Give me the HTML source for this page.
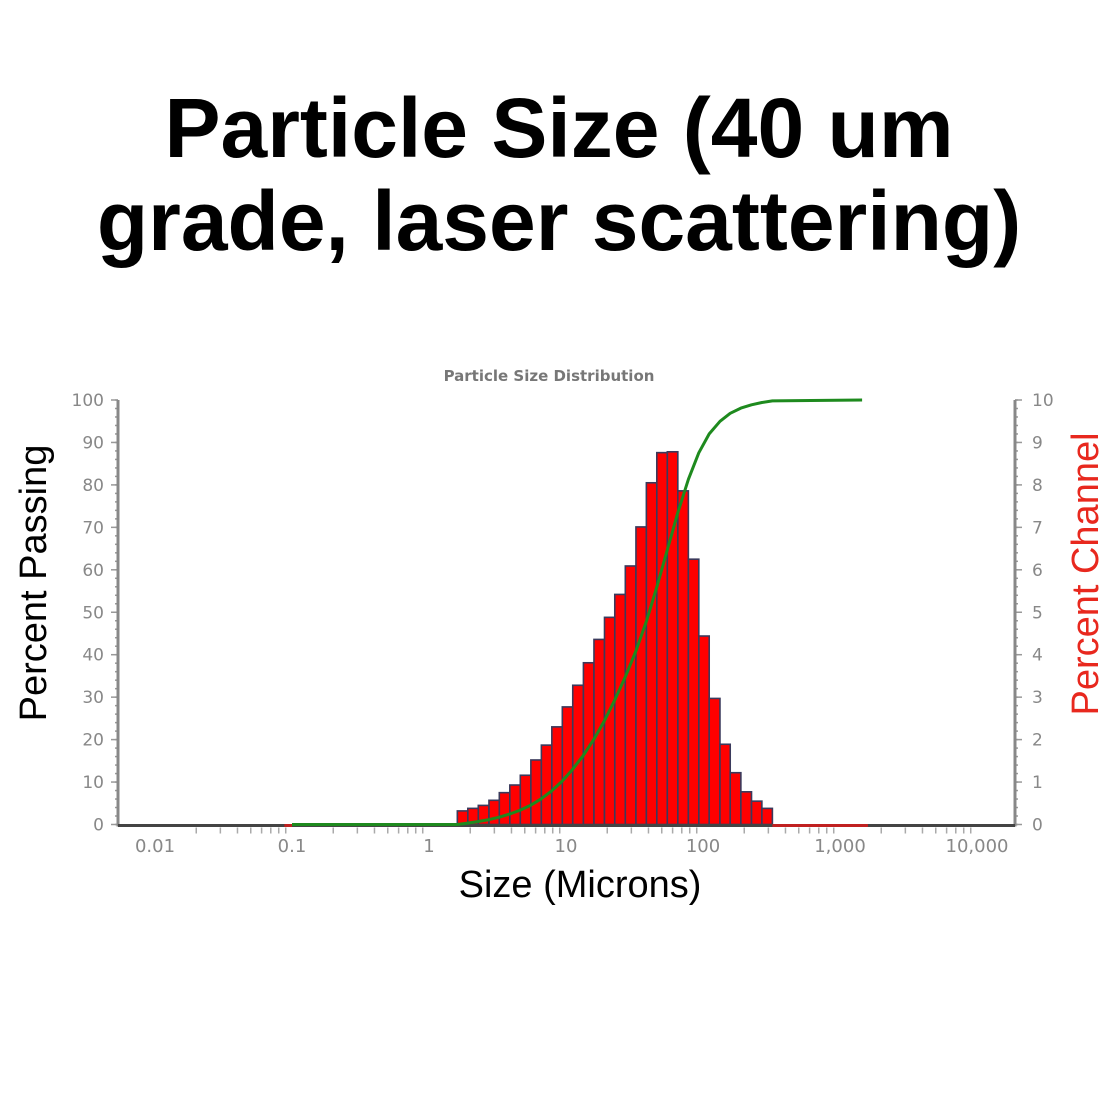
<!DOCTYPE html>
<html><head><meta charset="utf-8"><style>
body{margin:0;background:#fff;width:1120px;height:1118px;overflow:hidden}
svg{display:block}
</style></head><body>
<svg id="chart" width="1120" height="1118">
<text x="559" y="157" text-anchor="middle" font-family="Liberation Sans, sans-serif" font-weight="bold" font-size="84" fill="#000">Particle Size (40 um</text>
<text x="559" y="250" text-anchor="middle" font-family="Liberation Sans, sans-serif" font-weight="bold" font-size="84" fill="#000">grade, laser scattering)</text>
<text x="549" y="381" text-anchor="middle" font-family="DejaVu Sans, sans-serif" font-weight="bold" font-size="15" fill="#777">Particle Size Distribution</text>
<text transform="translate(46,583) rotate(-90)" text-anchor="middle" font-family="Liberation Sans, sans-serif" font-size="38" fill="#000">Percent Passing</text>
<text transform="translate(1098,574) rotate(-90)" text-anchor="middle" font-family="Liberation Sans, sans-serif" font-size="38" fill="#e8281e">Percent Channel</text>
<text x="580" y="897" text-anchor="middle" font-family="Liberation Sans, sans-serif" font-size="38" fill="#000">Size (Microns)</text>
<g id="g"></g>
</svg>
<script>
const binEdges=[1.61,1.92,2.29,2.74,3.26,3.89,4.64,5.54,6.61,7.88,9.40,11.2,13.4,16.0,19.1,22.7,27.1,32.4,38.6,46.0,54.9,65.5,78.2,93.2,111,133,158,189,226,269,321];
const channelPct=[0.32,0.38,0.45,0.57,0.75,0.93,1.16,1.52,1.87,2.30,2.77,3.28,3.81,4.36,4.88,5.42,6.09,7.01,8.05,8.76,8.78,7.86,6.25,4.44,2.97,1.89,1.22,0.77,0.55,0.38];
const passSizes=[0.1,1.61,1.92,2.29,2.74,3.26,3.89,4.64,5.54,6.61,7.88,9.40,11.2,13.4,16.0,19.1,22.7,27.1,32.4,38.6,46.0,54.9,65.5,78.2,93.2,111,133,158,189,226,269,321,1450];
const passPct=[0,0,0.32,0.70,1.15,1.72,2.47,3.40,4.56,6.08,7.95,10.25,13.02,16.30,20.11,24.47,29.35,34.77,40.86,47.87,55.92,64.68,73.46,81.32,87.57,92.01,94.98,96.87,98.09,98.86,99.41,99.79,100];
const leftTicks=[0,10,20,30,40,50,60,70,80,90,100];
const rightTicks=[0,1,2,3,4,5,6,7,8,9,10];
const xTickVals=[0.01,0.1,1,10,100,1000,10000];
const xTickLabels=["0.01","0.1","1","10","100","1,000","10,000"];

const X0=118,X1=1015,Y0=824.5,Y1=400;
const xs=v=>429+137*Math.log10(v);
const yl=v=>Y0-(Y0-Y1)*v/100;
const yr=v=>Y0-(Y0-Y1)*v/10;
const NS="http://www.w3.org/2000/svg";
const g=document.getElementById('g');
function mk(t,a){const e=document.createElementNS(NS,t);for(const k in a)e.setAttribute(k,a[k]);g.appendChild(e);return e;}
const F="DejaVu Sans, sans-serif";
for(let v=0;v<=100;v+=2){
  const y=yl(v);
  const t1=mk('line',{x1:X0-3,x2:X0,y1:y,y2:y,stroke:'#999','stroke-width':1.5});
  
  
  const t2=mk('line',{x1:X1,x2:X1+3,y1:y,y2:y,stroke:'#999','stroke-width':1.5});
  
  
}
leftTicks.forEach(v=>{
  const y=yl(v);
  const l=mk('line',{x1:X0-7,x2:X0,y1:y,y2:y,stroke:'#999','stroke-width':1.5});
  
  
  const t=mk('text',{x:X0-14,y:y+6,'text-anchor':'end','font-family':F,'font-size':17,fill:'#888'});
  t.textContent=v;
  
  
});
rightTicks.forEach(v=>{
  const y=yr(v);
  const l=mk('line',{x1:X1,x2:X1+7,y1:y,y2:y,stroke:'#999','stroke-width':1.5});
  
  
  const t=mk('text',{x:X1+17,y:y+6,'text-anchor':'start','font-family':F,'font-size':17,fill:'#888'});
  t.textContent=v;
  
  
});
let a=mk('line',{x1:X0,x2:X0,y1:Y1,y2:Y0+2,stroke:'#888','stroke-width':3});


a=mk('line',{x1:X1,x2:X1,y1:Y1,y2:Y0+2,stroke:'#888','stroke-width':3});


for(let d=-2;d<=4;d++){
  for(let m=2;m<=9;m++){
    const x=xs(m*Math.pow(10,d));
    if(x>X1-3)continue;
    const l=mk('line',{x1:x,x2:x,y1:Y0+3,y2:Y0+9,stroke:'#aaa','stroke-width':1.5});
    
    
  }
}
xTickVals.forEach((v,i)=>{
  const t=mk('text',{x:xs(v),y:852,'text-anchor':'middle','font-family':F,'font-size':18,fill:'#888'});
  t.textContent=xTickLabels[i];
  
  
});
channelPct.forEach((v,i)=>{
  const x=xs(binEdges[i]),w=xs(binEdges[i+1])-x,y=yr(v);
  const r=mk('rect',{x:x,y:y,width:w,height:Y0-y,fill:'#ff0000',stroke:'#3a3a5c','stroke-width':1.6});
  
  
});
a=mk('line',{x1:X0,x2:X1,y1:Y0+1,y2:Y0+1,stroke:'#444','stroke-width':3});


a=mk('line',{x1:xs(binEdges[binEdges.length-1]),x2:xs(1600),y1:Y0+1,y2:Y0+1,stroke:'#c02020','stroke-width':3});


a=mk('line',{x1:xs(0.088),x2:xs(0.1),y1:Y0+1,y2:Y0+1,stroke:'#c02020','stroke-width':3});


const pts=passSizes.map((s,i)=>xs(s).toFixed(1)+','+yl(passPct[i]).toFixed(1)).join(' ');
const pl=mk('polyline',{points:pts,fill:'none',stroke:'#1e8a1e','stroke-width':3,'stroke-linejoin':'round'});


</script>
</body></html>
